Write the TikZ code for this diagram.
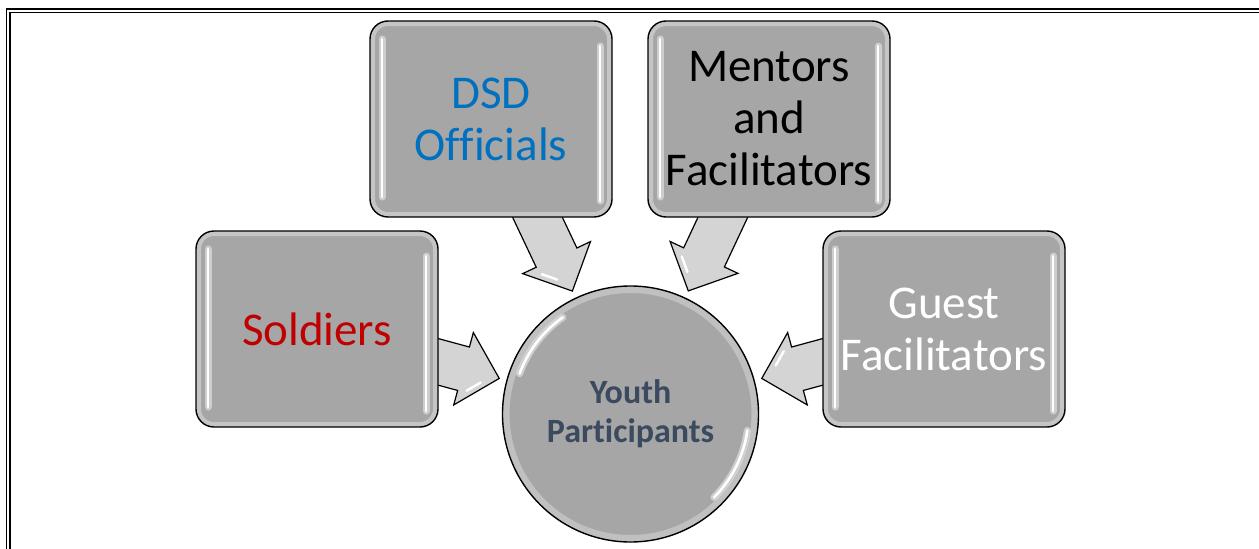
\documentclass[tikz,border=0pt]{standalone}
\usepackage{fontspec}
\setmainfont{Carlito}[Ligatures=NoCommon]
\usetikzlibrary{calc,backgrounds}

\definecolor{boxgray}{HTML}{A6A6A6}
\definecolor{arrowgray}{HTML}{D4D4D4}
\definecolor{dsdblue}{HTML}{0070C0}
\definecolor{soldred}{HTML}{C00000}
\definecolor{youthtext}{HTML}{3B4A5F}

\tikzset{
  stakebox/.style={
    rounded corners=18pt, fill=boxgray, draw=black, line width=1.4pt,
    minimum width=242pt, minimum height=196pt, inner sep=0pt,
    align=center, font=\fontsize{47}{52}\selectfont,
    path picture={
      % soft light bevel along the rim
      \draw[white, opacity=0.35, line width=10pt, rounded corners=18pt]
        (path picture bounding box.north west) rectangle (path picture bounding box.south east);
      % glossy vertical highlights
      \draw[white, opacity=0.45, line width=7pt, line cap=round]
        ([xshift=12pt,yshift=-18pt]path picture bounding box.north west) --
        ([xshift=12pt,yshift=20pt]path picture bounding box.south west);
      \draw[white, line width=2.6pt, line cap=round]
        ([xshift=12pt,yshift=-18pt]path picture bounding box.north west) --
        ([xshift=12pt,yshift=20pt]path picture bounding box.south west);
      \draw[white, opacity=0.45, line width=7pt, line cap=round]
        ([xshift=-12pt,yshift=-25pt]path picture bounding box.north east) --
        ([xshift=-12pt,yshift=16pt]path picture bounding box.south east);
      \draw[white, line width=2.6pt, line cap=round]
        ([xshift=-12pt,yshift=-25pt]path picture bounding box.north east) --
        ([xshift=-12pt,yshift=16pt]path picture bounding box.south east);
    }},
  hubcircle/.style={
    circle, fill=boxgray, draw=black, line width=1.4pt, minimum size=256pt,
    inner sep=0pt, align=center,
    font=\fontsize{34}{39}\selectfont\bfseries, text=youthtext,
    path picture={
      \draw[white, opacity=0.3, line width=14pt]
        (path picture bounding box.center) circle (128pt);
      \draw[white, opacity=0.45, line width=7pt, line cap=round]
        ([shift={(125:118pt)}]path picture bounding box.center) arc[start angle=125, end angle=160, radius=118pt];
      \draw[white, line width=2.6pt, line cap=round]
        ([shift={(125:118pt)}]path picture bounding box.center) arc[start angle=125, end angle=160, radius=118pt];
      \draw[white, opacity=0.45, line width=7pt, line cap=round]
        ([shift={(-45:118pt)}]path picture bounding box.center) arc[start angle=-45, end angle=-8, radius=118pt];
      \draw[white, line width=2.6pt, line cap=round]
        ([shift={(-45:118pt)}]path picture bounding box.center) arc[start angle=-45, end angle=-8, radius=118pt];
    }},
  flowarrow/.style={fill=arrowgray, draw=black, line width=1.2pt, line join=miter},
  arrowshine/.style={white, line width=2.4pt, line cap=round},
  framerule/.style={black}
}

% block arrow from node #1 towards node #2
\newcommand\glossyarrow[2]{%
  \path ($(#2.center)!136pt!(#1.center)$) coordinate (arT)
        ($(arT)!37pt!(#1.center)$) coordinate (arB)
        ($(arB)!37.5pt!-90:(arT)$) coordinate (arH);
  \draw[flowarrow]
    ($(#1.center)!22.5pt!90:(arT)$) -- ($(arB)!22.5pt!90:(arT)$) --
    ($(arB)!37.5pt!90:(arT)$) -- (arT) -- (arH) --
    ($(arB)!22.5pt!-90:(arT)$) -- ($(#1.center)!22.5pt!-90:(arT)$) -- cycle;
  \draw[arrowshine]
    ($($(arH)!0.3!(arT)$)!0.22!(arB)$) -- ($($(arH)!0.7!(arT)$)!0.22!(arB)$);
}

\begin{document}
\begin{tikzpicture}[x=1pt, y=-1pt]
  \useasboundingbox (0,0) rectangle (1259,549);

  % page frame (double rule)
  \draw[framerule, line width=2pt] (6,9.3) -- (1259,9.3);
  \draw[framerule, line width=1.3pt] (6.7,8.3) -- (6.7,549);
  \draw[framerule, line width=0.8pt] (8.7,12) -- (1259,12);
  \draw[framerule, line width=2pt] (9.7,11.6) -- (9.7,549);

  % stakeholder boxes
  \node[stakebox, text=soldred] (sold) at (317,329) {Soldiers};
  \node[stakebox, text=dsdblue] (dsd) at (491,119) {DSD\\Officials};
  \node[stakebox, text=black] (ment) at (769,119) {Mentors\\and\\Facilitators};
  \node[stakebox, text=white] (guest) at (944,329) {Guest\\Facilitators};

  % central circle
  \node[hubcircle] (youth) at (630.5,414) {Youth\\Participants};

  % arrows into the circle
  \begin{scope}[on background layer]
    \glossyarrow{sold}{youth}
    \glossyarrow{dsd}{youth}
    \glossyarrow{ment}{youth}
    \glossyarrow{guest}{youth}
  \end{scope}
\end{tikzpicture}
\end{document}
